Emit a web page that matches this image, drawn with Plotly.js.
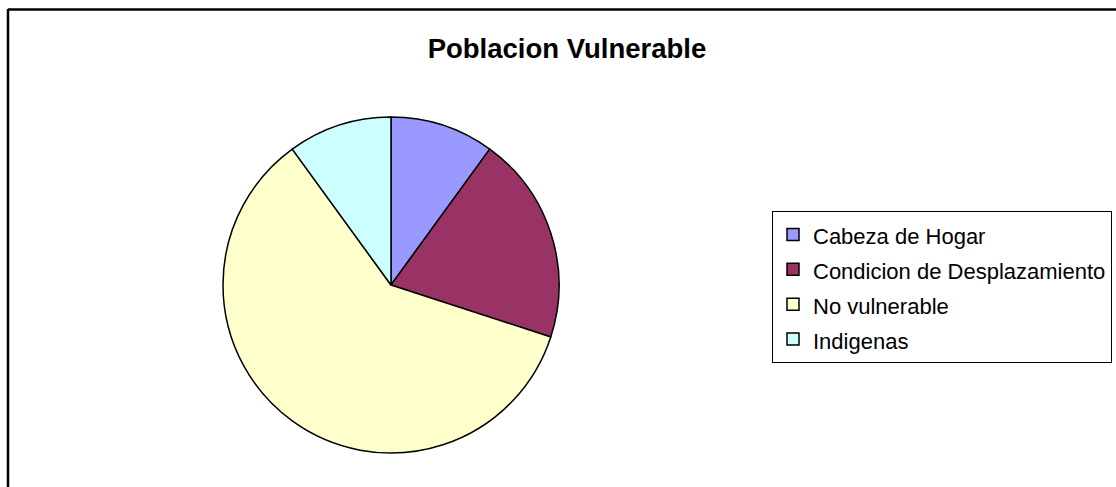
<!DOCTYPE html>
<html>
<head>
<meta charset="utf-8">
<script src="https://cdn.plot.ly/plotly-3.0.1.min.js"></script>
<style>
  html, body { margin: 0; padding: 0; background: #fff; overflow: hidden; }
  #chart { width: 1116px; height: 487px; }
</style>
</head>
<body>
<div id="chart"></div>
<script>
const categories = ["Cabeza de Hogar", "Condicion de Desplazamiento", "No vulnerable", "Indigenas"];
const values = [10, 20, 60, 10];
const colors = ["#9999FF", "#993366", "#FFFFCC", "#CCFFFF"];
const chartTitle = "Poblacion Vulnerable";

const W = 1116, H = 487;

const trace = {
  type: "pie",
  labels: categories.map(c => '<span style="font-size:22px">' + c + '</span>'),
  values: values,
  sort: false,
  direction: "clockwise",
  rotation: 0,
  textinfo: "none",
  hoverinfo: "none",
  marker: { colors: colors, line: { color: "#000000", width: 1.5 } },
  domain: { x: [223 / W, 559 / W], y: [34 / H, 370 / H] }
};

const layout = {
  width: W, height: H,
  margin: { l: 0, r: 0, t: 0, b: 0 },
  paper_bgcolor: "#ffffff",
  font: { family: "Liberation Sans, Arial, sans-serif", color: "#000000" },
  title: {
    text: "<b>" + chartTitle + "</b>",
    font: { size: 27.5, family: "Liberation Sans, Arial, sans-serif", color: "#000000" },
    x: 567 / W, xanchor: "center", xref: "paper",
    y: 1 - 48 / H, yanchor: "middle", yref: "paper"
  },
  showlegend: true,
  legend: {
    x: 772 / W, xanchor: "left",
    y: 1 - 211 / H, yanchor: "top",
    bgcolor: "#ffffff",
    bordercolor: "#000000",
    borderwidth: 1,
    font: { size: 24.5, family: "Liberation Sans, Arial, sans-serif", color: "#000000" },
    itemwidth: 30,
    traceorder: "normal"
  },
  shapes: [
    { type: "line", xref: "paper", yref: "paper", x0: 8 / W, x1: 8 / W, y0: 0, y1: 1 - 9 / H, line: { color: "#000", width: 2.5 } },
    { type: "line", xref: "paper", yref: "paper", x0: 8 / W, x1: 1, y0: 1 - 9.5 / H, y1: 1 - 9.5 / H, line: { color: "#000", width: 2.5 } }
  ]
};

Plotly.newPlot("chart", [trace], layout, { displayModeBar: false, staticPlot: true });
</script>
</body>
</html>
